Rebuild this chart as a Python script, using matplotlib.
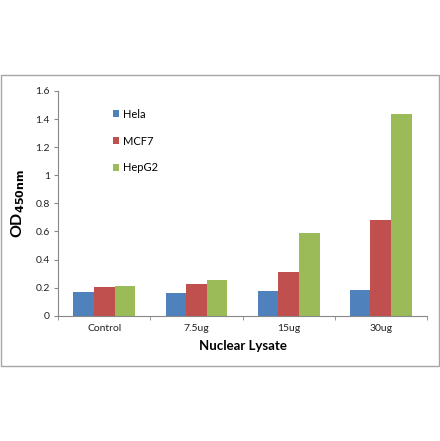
import matplotlib
matplotlib.use("Agg")
import matplotlib.pyplot as plt
from matplotlib.patches import Rectangle
import numpy as np

categories = ["Control", "7.5ug", "15ug", "30ug"]
series = ["Hela", "MCF7", "HepG2"]
hela = [0.166, 0.159, 0.175, 0.185]
mcf7 = [0.201, 0.226, 0.308, 0.679]
hepg2 = [0.209, 0.251, 0.586, 1.435]
colors = ["#4F81BD", "#C0504D", "#9BBB59"]

plt.rcParams['font.family'] = ['Lato', 'DejaVu Sans']

fig = plt.figure(figsize=(4.40, 4.41), dpi=100)
# outer chart border
fig.patches.append(Rectangle((1/440, 1 - 366/441), 438/440, 291/441,
                             transform=fig.transFigure, fill=False,
                             edgecolor="#A6A6A6", linewidth=1))
ax = fig.add_axes([0.1326, 0.2841, 0.8374, 0.5096])

x = np.arange(len(categories))
w = 0.224
for i, (vals, c) in enumerate(zip([hela, mcf7, hepg2], colors)):
    ax.bar(x + (i - 1) * w, vals, width=w, color=c, label=series[i])

ax.set_xlim(-0.5, 3.5)
ax.set_ylim(0, 1.6)
ax.set_yticks(np.arange(0, 1.61, 0.2))
ax.set_yticklabels(["0", "0.2", "0.4", "0.6", "0.8", "1", "1.2", "1.4", "1.6"])
ax.set_xticks(x)
ax.set_xticklabels(categories)
ax.set_xticks(np.arange(-0.5, 3.6, 1), minor=True)
ax.tick_params(axis="x", which="major", length=0, pad=6, labelsize=7.5, labelcolor="#222222")
ax.tick_params(axis="x", which="minor", length=3, color="#888888", direction="out")
ax.tick_params(axis="y", length=3, color="#888888", labelsize=7.5, pad=3, labelcolor="#222222")
for s in ["top", "right"]:
    ax.spines[s].set_visible(False)
for s in ["left", "bottom"]:
    ax.spines[s].set_color("#888888")
    ax.spines[s].set_linewidth(0.8)

ax.set_xlabel("Nuclear Lysate", fontsize=9.5, fontweight="bold", labelpad=5)
ax.set_ylabel(r"OD$_{\mathbf{450nm}}$", fontsize=11.5, fontweight="bold", labelpad=6)

leg = ax.legend(loc="upper left", bbox_to_anchor=(0.12, 0.965), frameon=False,
                fontsize=8, handlelength=0.6, handleheight=0.6,
                labelspacing=1.42, handletextpad=0.3)

fig.savefig("out.png", dpi=100)
